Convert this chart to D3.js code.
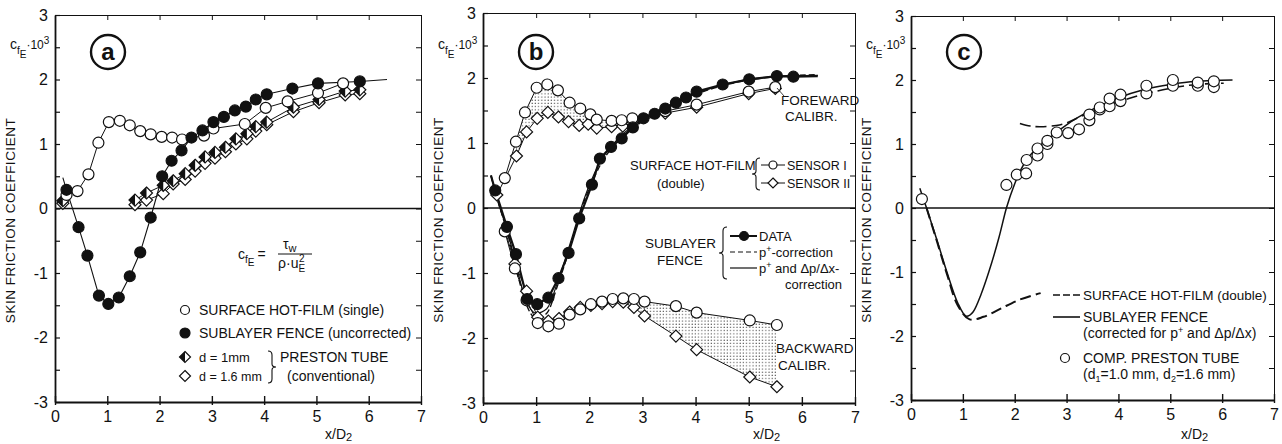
<!DOCTYPE html>
<html lang="en">
<head>
<meta charset="UTF-8" />
<title>Skin friction coefficient</title>
<script src="https://d3js.org/d3.v7.min.js"></script>
<style>
  body { margin: 0; background: #fff; }
  svg text { font-family: "Liberation Sans", Arial, sans-serif; fill: #111; }
</style>
</head>
<body>
<svg width="1282" height="444"></svg>
<script>
// ---- axis ticks
const xTicks = [0, 1, 2, 3, 4, 5, 6, 7];
const yTicks = [-3, -2.5, -2, -1.5, -1, -0.5, 0, 0.5, 1, 1.5, 2, 2.5, 3];

// ---- panel a
const hotFilmA_x = [0.22, 0.43, 0.64, 0.83, 1.03, 1.24, 1.43, 1.63, 1.83, 2.04, 2.24, 2.43, 2.85, 3.03, 3.63, 4.03, 4.45, 5.03, 5.51];
const hotFilmA_y = [0.21, 0.27, 0.53, 1.02, 1.34, 1.36, 1.29, 1.20, 1.15, 1.11, 1.10, 1.07, 1.13, 1.24, 1.31, 1.56, 1.66, 1.79, 1.94];
const fenceA_x = [0.15, 0.22, 0.45, 0.62, 0.84, 1.02, 1.22, 1.43, 1.63, 1.83, 2.05, 2.23, 2.42, 2.61, 2.82, 3.03, 3.23, 3.44, 3.65, 3.84, 4.05, 4.54, 5.03, 5.83, 6.35];
const fenceA_y = [0.48, 0.29, -0.29, -0.73, -1.35, -1.48, -1.38, -1.05, -0.68, -0.14, 0.50, 0.74, 0.90, 1.10, 1.21, 1.34, 1.42, 1.52, 1.58, 1.69, 1.77, 1.86, 1.94, 1.97, 2.0];
const fenceA_marked = fenceA_x.map((v, i) => i > 0 && i < fenceA_x.length - 1);
const prestonA_x = [0.15, 1.53, 1.75, 2.07, 2.26, 2.49, 2.68, 2.87, 3.06, 3.26, 3.46, 3.67, 3.84, 4.05, 4.56, 5.05, 5.55, 5.83];
const preston1A_y = [0.12, 0.13, 0.24, 0.36, 0.43, 0.54, 0.67, 0.80, 0.87, 0.95, 1.08, 1.16, 1.27, 1.34, 1.57, 1.69, 1.82, 1.84];
const preston16A_y = [0.08, 0.06, 0.13, 0.23, 0.38, 0.45, 0.58, 0.70, 0.78, 0.88, 1.00, 1.08, 1.20, 1.30, 1.50, 1.64, 1.76, 1.78];

// ---- panel b
const fwdI_x = [0.41, 0.62, 0.79, 1.01, 1.21, 1.41, 1.63, 1.83, 2.02, 2.14, 2.42, 2.61, 2.81, 3.43, 4.02, 5.00, 5.50];
const fwdI_y = [0.46, 1.02, 1.47, 1.85, 1.90, 1.81, 1.62, 1.53, 1.44, 1.36, 1.34, 1.35, 1.38, 1.49, 1.59, 1.79, 1.86];
const fwdII_x = [0.26, 0.63, 0.82, 1.02, 1.22, 1.42, 1.61, 1.81, 1.98, 2.14, 2.42, 2.63, 2.81, 3.43, 4.02, 5.00, 5.50];
const fwdII_y = [0.20, 0.80, 1.17, 1.38, 1.47, 1.40, 1.33, 1.27, 1.29, 1.23, 1.25, 1.26, 1.30, 1.46, 1.55, 1.76, 1.84];
const fenceB_x = [0.15, 0.23, 0.45, 0.62, 0.83, 1.02, 1.23, 1.42, 1.61, 1.81, 2.05, 2.20, 2.41, 2.61, 2.82, 3.02, 3.23, 3.43, 3.63, 3.82, 4.02, 4.51, 5.01, 5.53, 5.84, 6.30];
const fenceB_y = [0.50, 0.27, -0.29, -0.71, -1.40, -1.48, -1.38, -1.08, -0.69, -0.16, 0.36, 0.76, 0.94, 1.07, 1.24, 1.38, 1.45, 1.53, 1.62, 1.70, 1.79, 1.90, 1.98, 2.03, 2.02, 2.03];
const fenceB_marked = fenceB_x.map((v, i) => i > 0 && i < fenceB_x.length - 1);
const corrB_x = [0.15, 0.30, 0.45, 0.60, 0.80, 1.00, 1.20, 1.40, 1.60, 1.80, 1.90, 2.00, 2.20, 2.50, 3.00, 3.50, 4.00, 4.50, 5.00, 5.50, 6.30];
const corrPB_y = [0.50, 0.05, -0.35, -0.85, -1.45, -1.70, -1.62, -1.20, -0.70, -0.15, 0.10, 0.30, 0.65, 1.00, 1.33, 1.57, 1.75, 1.88, 1.97, 2.02, 2.05];
const corrPDB_y = [0.50, 0.05, -0.33, -0.80, -1.40, -1.62, -1.55, -1.15, -0.65, -0.12, 0.13, 0.35, 0.70, 1.03, 1.36, 1.58, 1.76, 1.89, 1.98, 2.02, 2.04];
const bwd_x = [0.41, 0.60, 0.82, 1.03, 1.23, 1.43, 1.63, 1.83, 2.03, 2.24, 2.44, 2.64, 2.84, 3.04, 3.63, 4.02, 5.02, 5.53];
const bwdI_y = [-0.36, -0.93, -1.42, -1.77, -1.82, -1.78, -1.64, -1.56, -1.48, -1.44, -1.40, -1.39, -1.40, -1.44, -1.51, -1.61, -1.73, -1.80];
const bwdII_y = [-0.33, -0.86, -1.28, -1.68, -1.74, -1.70, -1.60, -1.53, -1.50, -1.47, -1.44, -1.45, -1.53, -1.66, -1.97, -2.18, -2.60, -2.75];

// ---- panel c
const prestonC_x = [0.21, 1.84, 2.04, 2.22, 2.23, 2.44, 2.44, 2.63, 2.63, 2.81, 3.03, 3.24, 3.44, 3.44, 3.64, 3.64, 3.83, 3.83, 4.04, 4.04, 4.54, 4.54, 5.05, 5.05, 5.53, 5.53, 5.84, 5.84];
const prestonC_y = [0.14, 0.36, 0.52, 0.54, 0.75, 0.82, 0.93, 1.00, 1.05, 1.18, 1.17, 1.23, 1.37, 1.46, 1.54, 1.57, 1.59, 1.71, 1.67, 1.77, 1.79, 1.91, 1.91, 2.00, 1.91, 1.96, 1.89, 1.98];
const fenceC_x = [0.17, 0.30, 0.50, 0.70, 0.90, 1.07, 1.20, 1.35, 1.50, 1.70, 1.84, 2.00, 2.20, 2.50, 2.80, 3.00, 3.50, 4.00, 4.50, 5.00, 5.50, 6.20];
const fenceC_y = [0.31, 0.00, -0.50, -1.02, -1.48, -1.69, -1.62, -1.35, -1.00, -0.45, 0.00, 0.38, 0.72, 0.98, 1.18, 1.30, 1.54, 1.72, 1.85, 1.93, 1.98, 2.00];
const hotLowC_x = [0.30, 0.50, 0.70, 0.90, 1.13, 1.40, 1.71, 2.10, 2.50];
const hotLowC_y = [0.00, -0.52, -1.05, -1.52, -1.74, -1.70, -1.58, -1.43, -1.33];
const hotUpC_x = [2.10, 2.30, 2.50, 2.80, 3.00, 3.30, 3.60, 4.00, 4.50, 5.00, 5.50, 6.03];
const hotUpC_y = [1.32, 1.28, 1.27, 1.29, 1.33, 1.44, 1.55, 1.66, 1.78, 1.87, 1.93, 1.95];

const svg = d3.select("svg");
const ink = "#111";
const fontFam = "Liberation Sans, Arial, sans-serif";

const layout = [
  { id: "a", left: 55, top: 15, width: 366, height: 387 },
  { id: "b", left: 483, top: 13, width: 372, height: 390 },
  { id: "c", left: 911, top: 16, width: 363, height: 384 }
];

const defs = svg.append("defs");
const pat = defs.append("pattern").attr("id", "dots")
  .attr("width", 3.2).attr("height", 3.2).attr("patternUnits", "userSpaceOnUse");
pat.append("circle").attr("cx", 1).attr("cy", 1).attr("r", 0.65).attr("fill", "#333");

function zip(xs, ys) { return xs.map((v, i) => [v, ys[i]]); }

function text(g, str, x, y, size, anchor) {
  return g.append("text").attr("x", x).attr("y", y)
    .attr("font-size", size || 13).attr("text-anchor", anchor || "start").text(str);
}

function brace(g, x, y0, y1, dir) {
  const m = (y0 + y1) / 2, d = dir * 4;
  g.append("path")
    .attr("d", `M${x},${y0} Q${x + d},${y0} ${x + d},${y0 + 4} L${x + d},${m - 3} Q${x + d},${m} ${x + 2 * d},${m}` +
      ` Q${x + d},${m} ${x + d},${m + 3} L${x + d},${y1 - 4} Q${x + d},${y1} ${x},${y1}`)
    .attr("fill", "none").attr("stroke", ink).attr("stroke-width", 1.1);
}

function circles(g, pts, r, fill) {
  g.selectAll(null).data(pts).enter().append("circle")
    .attr("cx", d => d[0]).attr("cy", d => d[1]).attr("r", r)
    .attr("fill", fill).attr("stroke", ink).attr("stroke-width", 1.2);
}

function diamonds(g, pts, s, half) {
  const sel = g.selectAll(null).data(pts).enter().append("g")
    .attr("transform", d => `translate(${d[0]},${d[1]})`);
  sel.append("path").attr("d", `M0,${-s}L${s},0L0,${s}L${-s},0Z`)
    .attr("fill", "#fff").attr("stroke", ink).attr("stroke-width", 1.2);
  if (half) sel.append("path").attr("d", `M0,${-s}L${-s},0L0,${s}Z`).attr("fill", ink);
}

function path(g, pts, width, dash, curve) {
  const line = d3.line().curve(curve || d3.curveLinear);
  g.append("path").attr("d", line(pts)).attr("fill", "none")
    .attr("stroke", ink).attr("stroke-width", width)
    .attr("stroke-dasharray", dash || null);
}

function makePanel(p) {
  const x = d3.scaleLinear().domain([0, 7]).range([p.left, p.left + p.width]);
  const y = d3.scaleLinear().domain([-3, 3]).range([p.top + p.height, p.top]);
  const g = svg.append("g");

  // frame
  g.append("g").attr("transform", `translate(0,${y(3)})`)
    .call(d3.axisTop(x).tickValues(xTicks).tickSizeInner(-5).tickSizeOuter(0).tickFormat(""))
    .call(s => s.selectAll("line,path").attr("stroke", ink).attr("stroke-width", 1));
  g.append("g").attr("transform", `translate(${x(7)},0)`)
    .call(d3.axisRight(y).tickValues(yTicks).tickSizeInner(-5).tickSizeOuter(0).tickFormat(""))
    .call(s => s.selectAll("line,path").attr("stroke", ink).attr("stroke-width", 1));
  g.append("g").attr("transform", `translate(${x(0)},0)`)
    .call(d3.axisLeft(y).tickValues(yTicks).tickSizeInner(-5).tickSizeOuter(0).tickPadding(7)
      .tickFormat(d => Number.isInteger(d) ? String(d) : ""))
    .call(s => {
      s.selectAll("line").attr("stroke", ink).attr("stroke-width", 1.2);
      s.select(".domain").attr("stroke", ink).attr("stroke-width", 1.8);
      s.selectAll("text").attr("font-size", 16).attr("font-family", fontFam).attr("fill", ink);
    });
  g.append("g").attr("transform", `translate(0,${y(-3)})`)
    .call(d3.axisBottom(x).tickValues(xTicks).tickSizeInner(3).tickSizeOuter(0).tickPadding(6)
      .tickFormat(d => String(d)))
    .call(s => {
      s.selectAll(".tick line").attr("y1", -6).attr("y2", 3).attr("stroke", ink).attr("stroke-width", 1.4);
      s.select(".domain").attr("stroke", ink).attr("stroke-width", 1.8);
      s.selectAll("text").attr("font-size", 16).attr("font-family", fontFam).attr("fill", ink);
    });
  g.append("line").attr("x1", x(0)).attr("x2", x(7)).attr("y1", y(0)).attr("y2", y(0))
    .attr("stroke", ink).attr("stroke-width", 1.7);

  // titles
  const yl = p.left - 40, ym = p.top + p.height / 2 + 12;
  g.append("text").attr("transform", `translate(${yl},${ym}) rotate(-90)`)
    .attr("text-anchor", "middle").attr("font-size", 13.5).attr("letter-spacing", 0.5)
    .text("SKIN FRICTION COEFFICIENT");
  const cf = g.append("text").attr("x", p.left - 45).attr("y", 49).attr("font-size", 14);
  cf.append("tspan").text("c");
  cf.append("tspan").attr("dy", 5).attr("font-size", 10).text("f");
  cf.append("tspan").attr("dy", 4).attr("font-size", 10).text("E");
  cf.append("tspan").attr("dy", -9).attr("font-size", 12).text("·10");
  cf.append("tspan").attr("dy", -5).attr("font-size", 10).text("3");
  const xl = g.append("text").attr("x", p.left + 270).attr("y", 439).attr("font-size", 14);
  xl.append("tspan").text("x/D");
  xl.append("tspan").attr("dy", 2).attr("font-size", 11).text("2");

  const cx = p.left + 53;
  g.append("circle").attr("cx", cx).attr("cy", 52).attr("r", 17)
    .attr("fill", "none").attr("stroke", ink).attr("stroke-width", 2.4);
  g.append("text").attr("x", cx).attr("y", 60).attr("text-anchor", "middle")
    .attr("font-size", 24).attr("font-weight", "bold").text(p.id);

  const P = (xs, ys) => zip(xs, ys).map(d => [x(d[0]), y(d[1])]);
  return { g, x, y, P };
}

// ================= panel a
{
  const { g, P } = makePanel(layout[0]);
  path(g, P(hotFilmA_x, hotFilmA_y), 1);
  path(g, P(fenceA_x, fenceA_y), 1.1);
  path(g, P(prestonA_x.slice(1), preston1A_y.slice(1)), 1);
  path(g, P(prestonA_x.slice(1), preston16A_y.slice(1)), 1);
  diamonds(g, P(prestonA_x, preston16A_y), 6, false);
  diamonds(g, P(prestonA_x, preston1A_y), 6, true);
  circles(g, P(hotFilmA_x, hotFilmA_y), 5.5, "#fff");
  circles(g, P(fenceA_x, fenceA_y).filter((d, i) => fenceA_marked[i]), 5.5, ink);

  // formula
  const f = g.append("text").attr("x", 238).attr("y", 259).attr("font-size", 14);
  f.append("tspan").text("c");
  f.append("tspan").attr("dy", 4).attr("font-size", 10).text("f");
  f.append("tspan").attr("dy", 3).attr("font-size", 10).text("E");
  f.append("tspan").attr("dy", -7).attr("dx", 3).text("=");
  const num = g.append("text").attr("x", 283).attr("y", 249).attr("font-size", 14);
  num.append("tspan").text("τ");
  num.append("tspan").attr("dy", 3).attr("font-size", 11).text("w");
  g.append("line").attr("x1", 278).attr("x2", 312).attr("y1", 254).attr("y2", 254)
    .attr("stroke", ink).attr("stroke-width", 1);
  const den = g.append("text").attr("x", 278).attr("y", 268).attr("font-size", 14);
  den.append("tspan").text("ρ·u");
  den.append("tspan").attr("dy", 4).attr("font-size", 10).text("E");
  den.append("tspan").attr("dy", -10).attr("dx", -6).attr("font-size", 10).text("2");

  // legend
  circles(g, [[185, 310]], 4.5, "#fff");
  text(g, "SURFACE HOT-FILM (single)", 199, 315, 14);
  circles(g, [[185, 333]], 5, ink);
  text(g, "SUBLAYER FENCE (uncorrected)", 199, 338, 14);
  diamonds(g, [[185, 357]], 5.5, true);
  text(g, "d = 1mm", 199, 362, 13);
  diamonds(g, [[185, 376]], 5.5, false);
  text(g, "d = 1.6 mm", 199, 381, 12.5);
  brace(g, 268, 351, 383, 1);
  text(g, "PRESTON TUBE", 280, 362, 14);
  text(g, "(conventional)", 287, 381, 14);
}

// ================= panel b
{
  const { g, P } = makePanel(layout[1]);
  // dotted areas between sensor I and II
  const fwdArea = P(fwdI_x.slice(1, 13), fwdI_y.slice(1, 13))
    .concat(P(fwdII_x.slice(1, 13), fwdII_y.slice(1, 13)).reverse());
  g.append("path").attr("d", d3.line()(fwdArea) + "Z").attr("fill", "url(#dots)");
  const bwdArea = P(bwd_x.slice(12), bwdI_y.slice(12))
    .concat(P(bwd_x.slice(12), bwdII_y.slice(12)).reverse());
  g.append("path").attr("d", d3.line()(bwdArea) + "Z").attr("fill", "url(#dots)");

  path(g, P(fwdI_x, fwdI_y), 1);
  path(g, P(fwdII_x, fwdII_y), 1);
  path(g, P(bwd_x, bwdI_y), 1);
  path(g, P(bwd_x, bwdII_y), 1);
  path(g, P(corrB_x, corrPB_y), 1.4, "6,3", d3.curveMonotoneX);
  path(g, P(corrB_x, corrPDB_y), 1.2, null, d3.curveMonotoneX);
  path(g, P(fenceB_x, fenceB_y), 2.2);

  diamonds(g, P(fwdII_x, fwdII_y), 6, false);
  circles(g, P(fwdI_x, fwdI_y), 5.5, "#fff");
  diamonds(g, P(bwd_x.slice(1), bwdII_y.slice(1)), 6, false);
  circles(g, P(bwd_x, bwdI_y), 5.5, "#fff");
  circles(g, P(fenceB_x, fenceB_y).filter((d, i) => fenceB_marked[i]), 5.5, ink);

  // labels
  text(g, "FOREWARD", 781, 105, 13.5);
  text(g, "CALIBR.", 785, 121, 13.5);
  path(g, [[777, 88], [784, 96]], 0.8);
  text(g, "BACKWARD", 776, 353, 13.5);
  text(g, "CALIBR.", 778, 370, 13.5);

  text(g, "SURFACE HOT-FILM", 630, 170, 13);
  text(g, "(double)", 657, 188, 13);
  brace(g, 760, 158, 190, -1);
  path(g, [[761, 165], [785, 165]], 1);
  circles(g, [[773, 165]], 4, "#fff");
  text(g, "SENSOR I", 787, 170, 12.5);
  path(g, [[761, 183], [785, 183]], 1);
  diamonds(g, [[773, 183]], 5, false);
  text(g, "SENSOR II", 787, 188, 12.5);

  text(g, "SUBLAYER", 645, 248, 13.5);
  text(g, "FENCE", 657, 265, 13.5);
  brace(g, 727, 227, 279, -1);
  path(g, [[730, 236], [757, 236]], 2);
  circles(g, [[744, 236]], 4.5, ink);
  text(g, "DATA", 759, 241);
  path(g, [[730, 252], [757, 252]], 1.2, "5,3");
  const t1 = text(g, "p", 759, 257);
  t1.append("tspan").attr("dy", -5).attr("font-size", 9).text("+");
  t1.append("tspan").attr("dy", 5).text("-correction");
  path(g, [[730, 268], [757, 268]], 1.2);
  const t2 = text(g, "p", 759, 273);
  t2.append("tspan").attr("dy", -5).attr("font-size", 9).text("+");
  t2.append("tspan").attr("dy", 5).text(" and Δp/Δx-");
  text(g, "correction", 785, 289);
}

// ================= panel c
{
  const { g, P } = makePanel(layout[2]);
  path(g, P(fenceC_x, fenceC_y), 1.5, null, d3.curveMonotoneX);
  path(g, P(hotLowC_x, hotLowC_y), 2, "11,5", d3.curveCatmullRom);
  path(g, P(hotUpC_x, hotUpC_y), 1.6, "11,5", d3.curveCatmullRom);
  circles(g, P(prestonC_x, prestonC_y), 5.5, "#fff");

  path(g, [[1053, 295], [1080, 295]], 1.6, "7,3");
  text(g, "SURFACE HOT-FILM (double)", 1083, 300, 13.5);
  path(g, [[1053, 317], [1080, 317]], 1.6);
  text(g, "SUBLAYER FENCE", 1083, 322, 14);
  const t3 = text(g, "(corrected for p", 1083, 338, 14);
  t3.append("tspan").attr("dy", -5).attr("font-size", 9).text("+");
  t3.append("tspan").attr("dy", 5).text(" and Δp/Δx)");
  circles(g, [[1065, 358]], 4.5, "#fff");
  text(g, "COMP. PRESTON TUBE", 1083, 363, 14);
  const t4 = text(g, "(d", 1083, 379, 14);
  t4.append("tspan").attr("dy", 3).attr("font-size", 9).text("1");
  t4.append("tspan").attr("dy", -3).text("=1.0 mm, d");
  t4.append("tspan").attr("dy", 3).attr("font-size", 9).text("2");
  t4.append("tspan").attr("dy", -3).text("=1.6 mm)");
}
</script>
</body>
</html>
